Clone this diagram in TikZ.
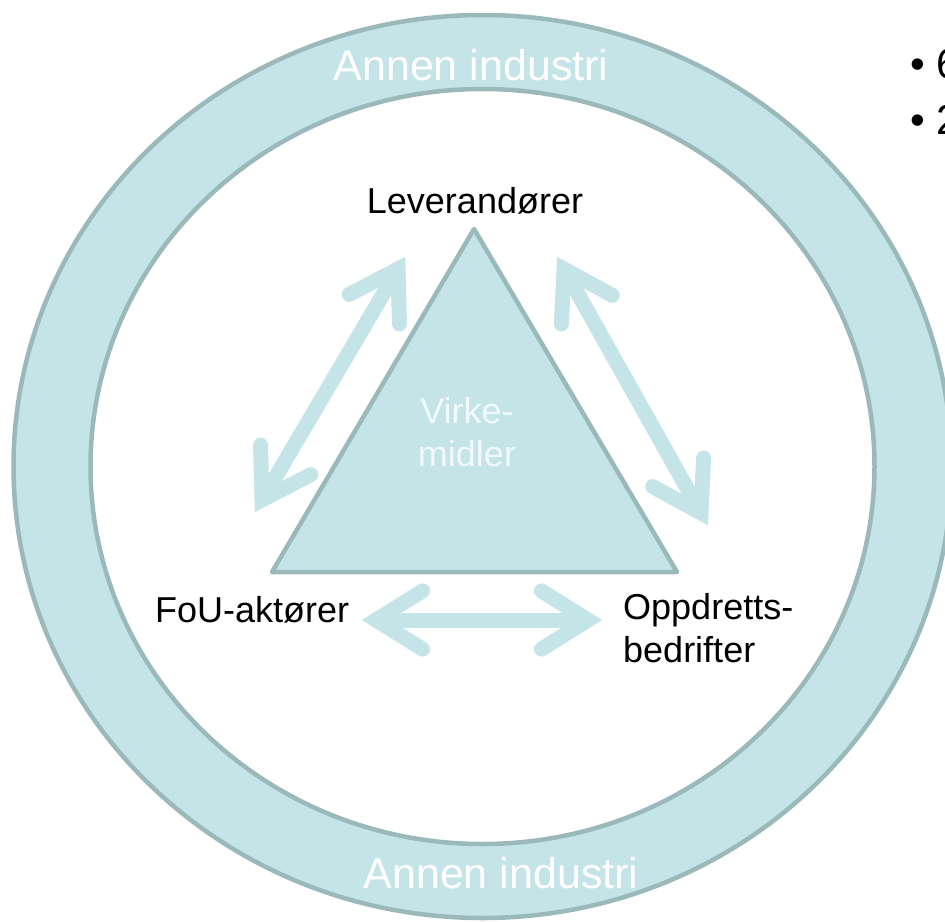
\documentclass[tikz,border=0pt]{standalone}
\usepackage{fontspec}
\setmainfont{Liberation Sans}
\usepackage{tikz}
\usetikzlibrary{calc}

\definecolor{ringfill}{HTML}{C4E4E7}
\definecolor{ringline}{HTML}{9BB8BB}
\definecolor{paletext}{HTML}{F2F9FA}

\begin{document}
\begin{tikzpicture}[x=1pt, y=-1pt,
	label/.style={font=\fontsize{36}{43}\selectfont, inner sep=0pt, text=black},
	ringtext/.style={font=\fontsize{43}{50}\selectfont, inner sep=0pt, text=white},
	outline/.style={draw=ringline, line width=4.5pt},
	shaft/.style={draw=ringfill, line width=15pt, line cap=butt},
	barb/.style={draw=ringfill, line width=15pt, line cap=round, line join=miter}]
	\useasboundingbox (0,0) rectangle (945,921);
	\clip (0,0) rectangle (945,921);
	
	% ring
	\coordinate (mid) at (482.5,466.5);
	\path[fill=ringfill, even odd rule] (mid) ellipse [x radius=469pt, y radius=451.5pt]
		(mid) ellipse [x radius=392pt, y radius=377.5pt];
	\draw[outline] (mid) ellipse [x radius=469pt, y radius=451.5pt];
	\draw[outline] (mid) ellipse [x radius=392pt, y radius=377.5pt];
	\node[ringtext, anchor=base] (topring) at (471,80) {Annen industri};
	\node[ringtext, anchor=base] (botring) at (501,888) {Annen industri};
	
	% triangle
	\coordinate (T) at (474,229);
	\coordinate (R) at (677,572);
	\coordinate (L) at (272,572);
	\draw[outline, fill=ringfill, line join=round] (T) -- (R) -- (L) -- cycle;
	\node[label, text=paletext, align=center] (virke) at (467,432) {Virke-\\midler};
	
	% labels
	\node[label, anchor=base] (lev) at (475,213) {Leverandører};
	\node[label, anchor=base west] (fou) at (155,622) {FoU-aktører};
	\node[label, anchor=west, align=left] (opp) at (623,628) {Oppdretts-\\bedrifter};
	
	% arrows
	\coordinate (lu) at (398,269);
	\coordinate (ll) at (262,500);
	\coordinate (ru) at (564,269);
	\coordinate (rl) at (701,513);
	\coordinate (bl) at (376,620);
	\coordinate (br) at (588,620);
	
	\draw[shaft] (lu) -- (ll);
	\draw[barb] ($(lu)!55pt!32:(ll)$) -- (lu) -- ($(lu)!55pt!-32:(ll)$);
	\draw[barb] ($(ll)!55pt!32:(lu)$) -- (ll) -- ($(ll)!55pt!-32:(lu)$);
	
	\draw[shaft] (ru) -- (rl);
	\draw[barb] ($(ru)!55pt!32:(rl)$) -- (ru) -- ($(ru)!55pt!-32:(rl)$);
	\draw[barb] ($(rl)!55pt!32:(ru)$) -- (rl) -- ($(rl)!55pt!-32:(ru)$);
	
	\draw[shaft] (bl) -- (br);
	\draw[barb] ($(bl)!55pt!32:(br)$) -- (bl) -- ($(bl)!55pt!-32:(br)$);
	\draw[barb] ($(br)!55pt!32:(bl)$) -- (br) -- ($(br)!55pt!-32:(bl)$);
	
	% bullets at the edge
	\node[label, font=\fontsize{42}{50}\selectfont, anchor=base west] (b1) at (910,78) {• 6};
	\node[label, font=\fontsize{42}{50}\selectfont, anchor=base west] (b2) at (910,134) {• 2};
\end{tikzpicture}
\end{document}
